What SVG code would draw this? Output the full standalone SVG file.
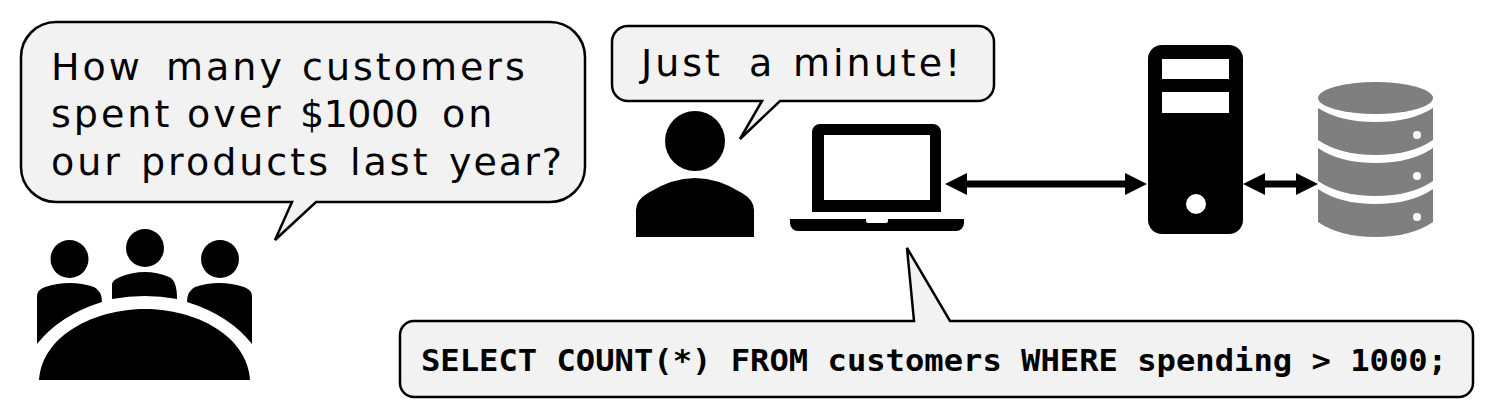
<svg xmlns="http://www.w3.org/2000/svg" width="1489" height="411" viewBox="0 0 1489 411">
<style>
.bubble{fill:#f2f2f2;stroke:#000;stroke-width:2.5;stroke-linejoin:miter}
.hand{font-family:"DejaVu Sans","Noto Sans",sans-serif;font-size:38px;letter-spacing:3px;fill:#000}
.tight{letter-spacing:-0.5px}
.close{letter-spacing:2px}
.sql{font-family:"DejaVu Sans Mono","Liberation Mono",monospace;font-weight:bold;font-size:30px;fill:#000}
.conn{stroke:#000;stroke-width:7;fill:none;marker-start:url(#headS);marker-end:url(#headE)}
.db{fill:#7f7f7f}
</style>
<defs>
<marker id="headE" markerUnits="userSpaceOnUse" markerWidth="22" markerHeight="22" refX="0" refY="11" orient="auto"><path d="M0 0L22 11L0 22Z" fill="#000"/></marker>
<marker id="headS" markerUnits="userSpaceOnUse" markerWidth="22" markerHeight="22" refX="22" refY="11" orient="auto"><path d="M22 0L0 11L22 22Z" fill="#000"/></marker>
</defs>
<rect width="1489" height="411" fill="#fff"/>
<g id="bubble-question">
<path class="bubble" d="M56 22H550A35 35 0 0 1 585 57V167A35 35 0 0 1 550 202H316L275 240L292 202H56A35 35 0 0 1 21 167V57A35 35 0 0 1 56 22Z"/>
<text class="hand" y="80"><tspan x="51">How</tspan> <tspan x="166">many</tspan> <tspan x="302">customers</tspan></text>
<text class="hand" y="127"><tspan x="51">spent</tspan> <tspan x="187">over</tspan> <tspan x="300" class="tight">$1000</tspan> <tspan x="442">on</tspan></text>
<text class="hand" y="175"><tspan x="51">our</tspan> <tspan x="141">products</tspan> <tspan x="350">last</tspan> <tspan x="449" class="close">year?</tspan></text>
</g>
<g id="people">
<circle cx="69.5" cy="259" r="19"/><circle cx="145" cy="248" r="19"/><circle cx="220" cy="259" r="19"/>
<path d="M37 344V296Q37 290 45 287Q70 279 94 287Q102 291 102 302Q60 315 37 344Z"/>
<path d="M112 299V285Q112 280 120 277Q145 267 169 277Q177 280 177 299Q145 293 112 299Z"/>
<path d="M252 344V296Q252 290 244 287Q219 279 195 287Q187 291 187 302Q229 315 252 344Z"/>
<path d="M39 380C42 335 95 309 145 309C195 309 247 335 250 380Z"/>
</g>
<g id="bubble-wait">
<path class="bubble" d="M628 26H978A16 16 0 0 1 994 42V85A16 16 0 0 1 978 101H780L740 139L762 101H628A16 16 0 0 1 612 85V42A16 16 0 0 1 628 26Z"/>
<text class="hand" y="76"><tspan x="641">Just</tspan> <tspan x="749">a</tspan> <tspan x="793">minute!</tspan></text>
</g>
<g id="person">
<circle cx="695" cy="141" r="30"/>
<path d="M636 237V210Q636 200 648 193Q672 178 695 178Q718 178 742 193Q754 200 754 210V237Z"/>
</g>
<g id="laptop">
<path fill-rule="evenodd" d="M820 124H933A8 8 0 0 1 941 132V212H812V132A8 8 0 0 1 820 124ZM824 135V200H930V135Z"/>
<path d="M790 219H866V221Q866 223 868 223H886Q888 223 888 221V219H964V223A8 8 0 0 1 956 231H798A8 8 0 0 1 790 223Z"/>
</g>
<g id="server">
<path fill-rule="evenodd" d="M1162 45H1229A14 14 0 0 1 1243 59V220A14 14 0 0 1 1229 234H1162A14 14 0 0 1 1148 220V59A14 14 0 0 1 1162 45ZM1162 59V79H1229V59ZM1162 92V113H1229V92Z"/>
<circle cx="1196" cy="204" r="10" fill="#fff"/>
</g>
<g id="database">
<ellipse class="db" cx="1375.5" cy="98" rx="57.5" ry="16"/>
<path class="db" d="M1318 108Q1340 122 1375.5 122Q1411 122 1433 108V140Q1411 155 1375.5 155Q1340 155 1318 140Z"/>
<path class="db" d="M1318 148Q1340 163 1375.5 163Q1411 163 1433 148V181Q1411 196 1375.5 196Q1340 196 1318 181Z"/>
<path class="db" d="M1318 189Q1340 204 1375.5 204Q1411 204 1433 189V222Q1411 237 1375.5 237Q1340 237 1318 222Z"/>
<circle cx="1417" cy="135" r="4" fill="#fff"/><circle cx="1417" cy="176" r="4" fill="#fff"/><circle cx="1417" cy="217" r="4" fill="#fff"/>
</g>
<g id="connectors">
<line class="conn" x1="967" y1="184" x2="1125" y2="184"/>
<line class="conn" x1="1265" y1="184" x2="1296" y2="184"/>
</g>
<g id="bubble-sql">
<path class="bubble" d="M414 321H914L907 248L950 321H1459A14 14 0 0 1 1473 335V383A14 14 0 0 1 1459 397H414A14 14 0 0 1 400 383V335A14 14 0 0 1 414 321Z"/>
<text class="sql" x="421" y="371" textLength="1026" lengthAdjust="spacingAndGlyphs">SELECT COUNT(*) FROM customers WHERE spending &gt; 1000;</text>
</g>
</svg>
